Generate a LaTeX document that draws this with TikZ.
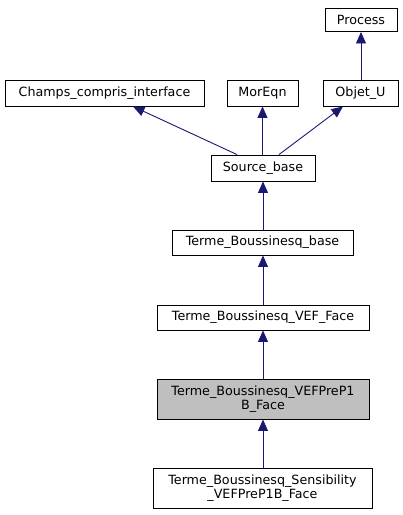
\documentclass[tikz,border=0pt]{standalone}
\usepackage{fontspec}
\setmainfont{DejaVu Sans}
\usetikzlibrary{arrows.meta}
\definecolor{edgeblue}{HTML}{191970}
\begin{document}
\begin{tikzpicture}[x=1pt,y=-1pt,
  box/.style={draw=black,line width=0.9pt,fill=white,inner sep=0pt,font=\fontsize{12.7}{14.5}\selectfont,align=center},
  hl/.style={box,fill=black!25},
  arr/.style={draw=edgeblue,line width=0.9pt,-{Triangle[length=11.5pt,width=10pt]}}]
\useasboundingbox (0,0) rectangle (403,515);
\node[box,minimum width=72pt,minimum height=23pt] (process) at (361,20) {Process};
\node[box,minimum width=199pt,minimum height=26pt] (champs) at (104.5,93) {Champs\_compris\_interface};
\node[box,minimum width=71pt,minimum height=26pt] (moreqn) at (262.5,93) {MorEqn};
\node[box,minimum width=75pt,minimum height=26pt] (objet) at (360.5,93) {Objet\_U};
\node[box,minimum width=104pt,minimum height=26pt] (source) at (263,168) {Source\_base};
\node[box,minimum width=181pt,minimum height=25pt] (tbase) at (262.5,242.5) {Terme\_Boussinesq\_base};
\node[box,minimum width=212pt,minimum height=25pt] (tvef) at (263,317.5) {Terme\_Boussinesq\_VEF\_Face};
\node[hl,minimum width=212pt,minimum height=40pt] (tpre) at (263,399) {Terme\_Boussinesq\_VEFPreP1\\B\_Face};
\node[box,minimum width=219pt,minimum height=40pt] (tsens) at (262.5,488) {Terme\_Boussinesq\_Sensibility\\\_VEFPreP1B\_Face};
\draw[arr] (objet.north -| process) -- (process.south);
\draw[arr] ([xshift=-26pt]source.north) -- ([xshift=28.5pt]champs.south);
\draw[arr] (source.north -| moreqn) -- (moreqn.south);
\draw[arr] ([xshift=16pt]source.north) -- ([xshift=-17.5pt]objet.south);
\draw[arr] (tbase.north -| source) -- (source.south);
\draw[arr] (tvef.north) -- (tbase.south -| tvef);
\draw[arr] (tpre.north) -- (tvef.south);
\draw[arr] (tsens.north -| tpre) -- (tpre.south);
\end{tikzpicture}
\end{document}
